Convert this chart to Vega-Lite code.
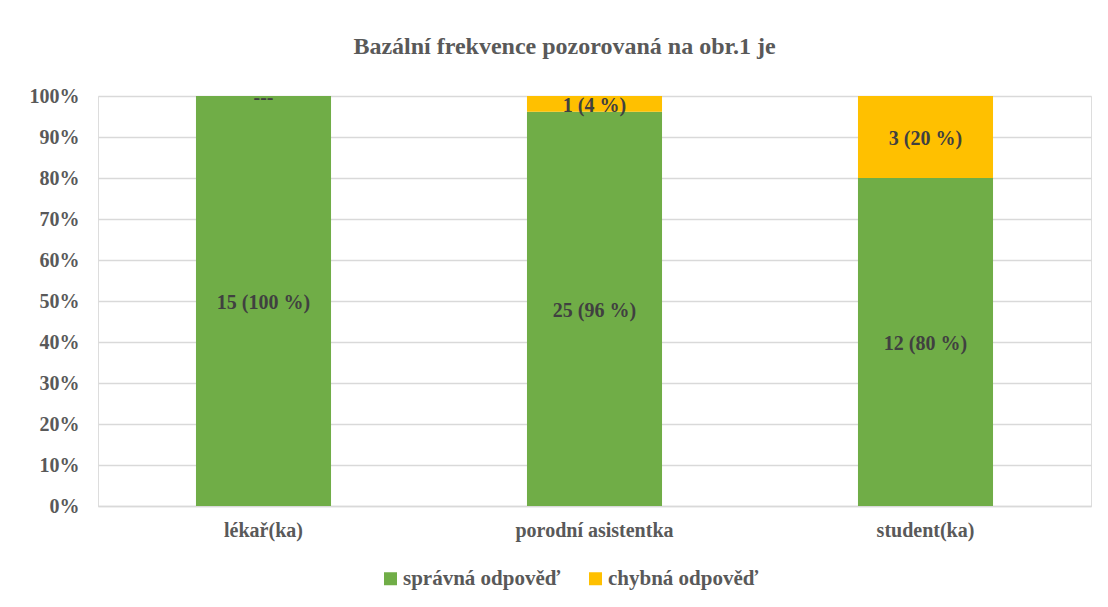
{
  "$schema": "https://vega.github.io/schema/vega-lite/v6.json",
  "autosize": "none",
  "width": 993,
  "height": 410,
  "padding": {"left": 98, "top": 96, "right": 17, "bottom": 101},
  "background": "white",
  "title": {
    "text": "Bazální frekvence pozorovaná na obr.1 je",
    "font": "Liberation Serif",
    "fontSize": 24,
    "fontWeight": "bold",
    "color": "#595959",
    "anchor": "middle",
    "frame": "group",
    "dx": -30,
    "offset": 27
  },
  "data": {
    "values": [
      {"kat": "lékař(ka)", "odpoved": "správná odpověď", "pocet": 15, "label": "15 (100 %)"},
      {"kat": "lékař(ka)", "odpoved": "chybná odpověď", "pocet": 0, "label": "---"},
      {"kat": "porodní asistentka", "odpoved": "správná odpověď", "pocet": 25, "label": "25 (96 %)"},
      {"kat": "porodní asistentka", "odpoved": "chybná odpověď", "pocet": 1, "label": "1 (4 %)"},
      {"kat": "student(ka)", "odpoved": "správná odpověď", "pocet": 12, "label": "12 (80 %)"},
      {"kat": "student(ka)", "odpoved": "chybná odpověď", "pocet": 3, "label": "3 (20 %)"}
    ]
  },
  "transform": [
    {"stack": "pocet", "groupby": ["kat"], "offset": "normalize", "as": ["y0", "y1"], "sort": [{"field": "odpoved", "order": "descending"}]}
  ],
  "encoding": {
    "x": {
      "field": "kat",
      "type": "nominal",
      "sort": ["lékař(ka)", "porodní asistentka", "student(ka)"],
      "scale": {"paddingInner": 0.592, "paddingOuter": 0.296},
      "axis": {
        "title": null,
        "labelAngle": 0,
        "labelFont": "Liberation Serif",
        "labelFontSize": 20,
        "labelFontWeight": "bold",
        "labelColor": "#595959",
        "labelPadding": 14,
        "ticks": false,
        "domainColor": "#D9D9D9",
        "domainWidth": 1.5
      }
    }
  },
  "layer": [
    {
      "mark": {"type": "bar"},
      "encoding": {
        "y": {
          "field": "y0",
          "type": "quantitative",
          "scale": {"domain": [0, 1], "nice": false},
          "axis": {
            "title": null,
            "format": ".0%",
            "values": [0, 0.1, 0.2, 0.3, 0.4, 0.5, 0.6, 0.7, 0.8, 0.9, 1],
            "labelFont": "Liberation Serif",
            "labelFontSize": 20,
            "labelFontWeight": "bold",
            "labelColor": "#595959",
            "labelPadding": 19,
            "labelOverlap": false,
            "ticks": false,
            "domain": false,
            "grid": true,
            "gridColor": "#D9D9D9",
            "gridWidth": 1.5
          }
        },
        "y2": {"field": "y1"},
        "color": {
          "field": "odpoved",
          "type": "nominal",
          "scale": {"domain": ["správná odpověď", "chybná odpověď"], "range": ["#70AD47", "#FFC000"]},
          "legend": {
            "title": null,
            "orient": "none",
            "direction": "horizontal",
            "legendX": 282,
            "legendY": 472,
            "symbolType": "square",
            "symbolSize": 169,
            "symbolStrokeWidth": 0,
            "symbolOpacity": 1,
            "labelFont": "Liberation Serif",
            "labelFontSize": 21,
            "labelFontWeight": "bold",
            "labelColor": "#595959",
            "labelOffset": 2,
            "columnPadding": 24
          }
        }
      }
    },
    {
      "transform": [
        {"fold": ["y0", "y1"], "as": ["kraj", "hodnota"]}
      ],
      "mark": {"type": "text", "font": "Liberation Serif", "fontSize": 20, "fontWeight": "bold", "color": "#404040", "baseline": "middle", "dy": 2},
      "encoding": {
        "y": {"aggregate": "mean", "field": "hodnota", "type": "quantitative"},
        "detail": {"field": "odpoved"},
        "text": {"field": "label"}
      }
    }
  ],
  "resolve": {"axis": {"y": "shared"}}
}
